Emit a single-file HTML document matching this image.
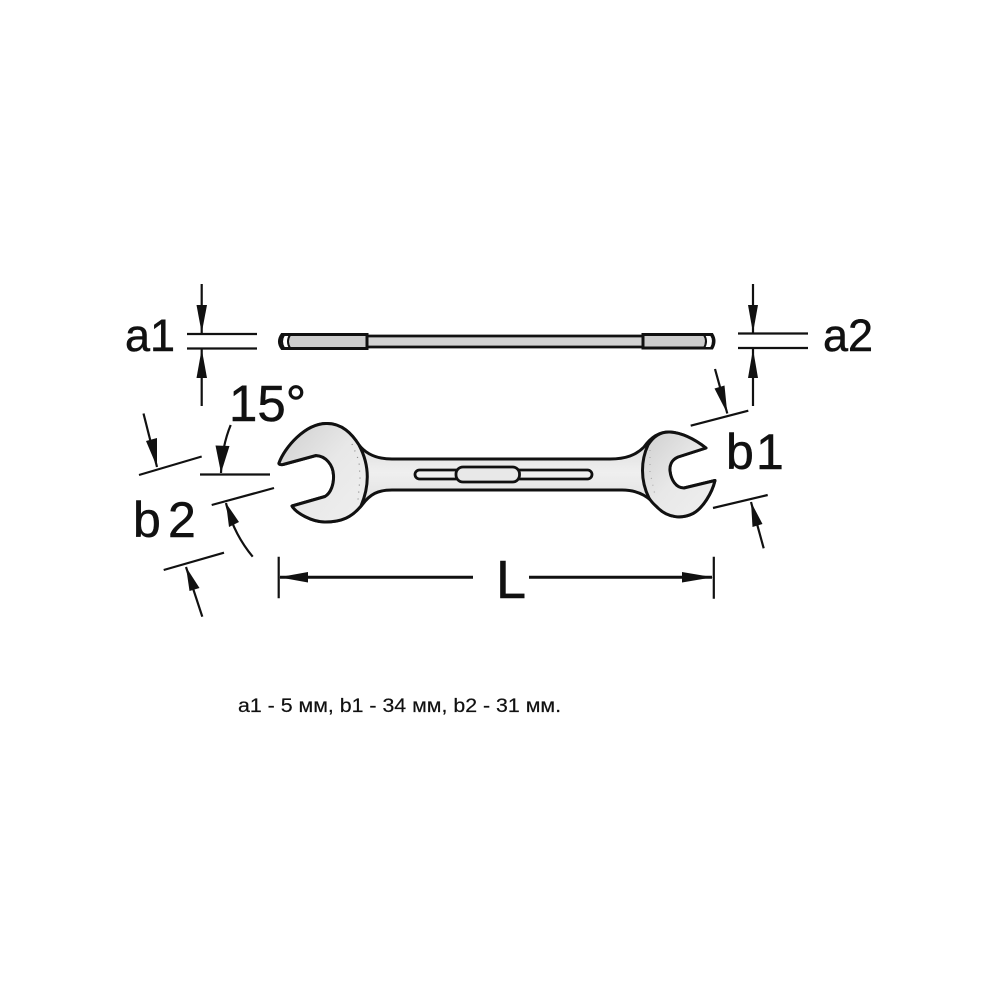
<!DOCTYPE html>
<html>
<head>
<meta charset="utf-8">
<style>
html,body{margin:0;padding:0;background:#fff;width:1000px;height:1000px;overflow:hidden}
svg{display:block}
text{font-family:"Liberation Sans",sans-serif;fill:#111;stroke:#111;stroke-width:.5px}
</style>
</head>
<body>
<svg width="1000" height="1000" viewBox="0 0 1000 1000" xmlns="http://www.w3.org/2000/svg">
<defs>
<linearGradient id="s" x1="0" y1="0" x2="0" y2="1"><stop offset="0" stop-color="#d2d2d2"/><stop offset=".5" stop-color="#efefef"/><stop offset="1" stop-color="#d8d8d8"/></linearGradient>
<linearGradient id="h" x1="0" y1="0" x2="1" y2="1"><stop offset="0" stop-color="#cfcfcf"/><stop offset=".5" stop-color="#e8e8e8"/><stop offset="1" stop-color="#efefef"/></linearGradient>
</defs>

<!-- side view -->
<path d="M366 336H644V347H366Z" fill="#d2d2d2" stroke="#111" stroke-width="2.800"/>
<path d="M282 334.500H367V348.500H282Q277 341.500 282 334.500Z" fill="#cdcdcd" stroke="#111" stroke-width="3"/>
<path d="M643 334.500H712Q716 341 712 348H643Z" fill="#cdcdcd" stroke="#111" stroke-width="3"/>
<path d="M284 335H290Q286 341.500 290 348H284Q280 341.500 284 335Z" fill="#fff" stroke="#111" stroke-width="2"/>
<path d="M704 335H711Q715 341 711 348H704Q708 341 704 335Z" fill="#fff" stroke="#111" stroke-width="2"/>

<!-- wrench -->
<path d="M279 463C285 447 305 424 326 423.500C342 423 352 434 359 445C366 454 376 459 392 459H610C626 459 636 455 644 447C651 437 660 431.500 670 432C684 433 697 441 706 448L678 457C671 460 669.500 466 670 471C671 480 676 488 684 488L715 480.500C712 493 703 508 693 513.500C682 519 668 518 658 508C650 498 640 490 622 490H392C378 490 370 494 362 505C352 517 342 522 325 522C312 522 296 513 292 506L325 496.500C331 493 334 484 333.500 475C333 465 326 456 316 455.500L283 464.500C280 465 278.500 464 279 463Z" fill="url(#s)" stroke="#111" stroke-width="3" stroke-linejoin="round"/>
<path d="M279 463C285 447 305 424 326 423.500C342 423 352 434 359 445C367 460 372 480 361 506C352 517 342 522 325 522C312 522 296 513 292 506L325 496.500C331 493 334 484 333.500 475C333 465 326 456 316 455.500L283 464.500C280 465 278.500 464 279 463Z" fill="url(#h)" stroke="#111" stroke-width="3" stroke-linejoin="round"/>
<path d="M648 445C641 460 640 480 649 498C652 503 655 505 658 508C668 518 682 519 693 513.500C703 508 712 493 715 480.500L684 488C676 488 671 480 670 471C669.500 466 671 460 678 457L706 448C697 441 684 433 670 432C660 431.500 653 437 648 445Z" fill="url(#h)" stroke="#111" stroke-width="3" stroke-linejoin="round"/>
<path d="M352 444L359 461L360 478L358 500" fill="none" stroke="#888" stroke-width="1.200" stroke-dasharray="1 6"/>
<path d="M650 450L650 472L655 495" fill="none" stroke="#aaa" stroke-width="1.200" stroke-dasharray="1 6"/>

<!-- slots -->
<rect x="415" y="470" width="177" height="9" rx="4.500" fill="#f0f0f0" stroke="#111" stroke-width="2.800"/>
<rect x="456" y="467" width="63.500" height="15" rx="7" fill="#e8e8e8" stroke="#111" stroke-width="2.800"/>

<g stroke="#111" stroke-width="2.200" fill="none" stroke-linecap="butt">
<!-- a1 -->
<path d="M187 334H257M187 348.500H257"/>
<path d="M201.700 284V334M201.700 348.500V406"/>
<!-- a2 -->
<path d="M738 333.500H808M738 348H808"/>
<path d="M753 284V333.500M753 349V406"/>
<!-- b2 -->
<path d="M139 475L201.700 456.500"/>
<path d="M143.500 413.500L157 467"/>
<path d="M211.700 505L274 488"/>
<path d="M163.700 570L224 552.700"/>
<path d="M202.300 616.700L186 567"/>
<!-- 15 deg -->
<path d="M200 474.500H270"/>
<path d="M230.700 425Q222 446 221 473"/>
<path d="M252.700 556.700Q233 533 226 503"/>
<!-- b1 -->
<path d="M690.700 425.700L748.300 410.700"/>
<path d="M715 369L727.300 413.500"/>
<path d="M713 508L767.700 495"/>
<path d="M763.700 548.300L751 502"/>
<!-- L -->
<path d="M278.700 556.700V598.300M713.800 556.700V598.700"/>
</g>
<path d="M280 577.300H473M529 577.300H712" stroke="#111" stroke-width="3" fill="none"/>

<g fill="#111">
<path d="M201.700 333L196.500 305H207Z"/>
<path d="M201.700 349L196.500 378H207Z"/>
<path d="M753 333L748 305H758Z"/>
<path d="M753 349L748 378H758Z"/>
<path d="M157 467L146 441L157 438Z"/>
<path d="M221 473L215.500 445.500L229.500 446Z"/>
<path d="M226 503L239 522L229 527Z"/>
<path d="M186 567L199.500 588L189.500 591Z"/>
<path d="M727.300 413.500L714.500 388.500L724.500 385.500Z"/>
<path d="M751 502L762.500 524L752.500 527Z"/>
<path d="M279 577.300L308 572V582.500Z"/>
<path d="M713 577.300L682 572V582.500Z"/>
</g>

<!-- labels -->
<text x="125" y="351" font-size="45">a1</text>
<text x="823" y="351" font-size="45">a2</text>
<text x="229" y="421" font-size="51">15°</text>
<text x="133" y="537" font-size="50">b</text>
<text x="168" y="537" font-size="50">2</text>
<text x="726" y="469" font-size="50">b</text>
<text x="756" y="469" font-size="50">1</text>
<text x="496" y="598" font-size="54">L</text>
<text x="238" y="712" font-size="19" textLength="323" lengthAdjust="spacingAndGlyphs" style="stroke-width:.2px">a1 - 5 мм, b1 - 34 мм, b2 - 31 мм.</text>
</svg>
</body>
</html>
